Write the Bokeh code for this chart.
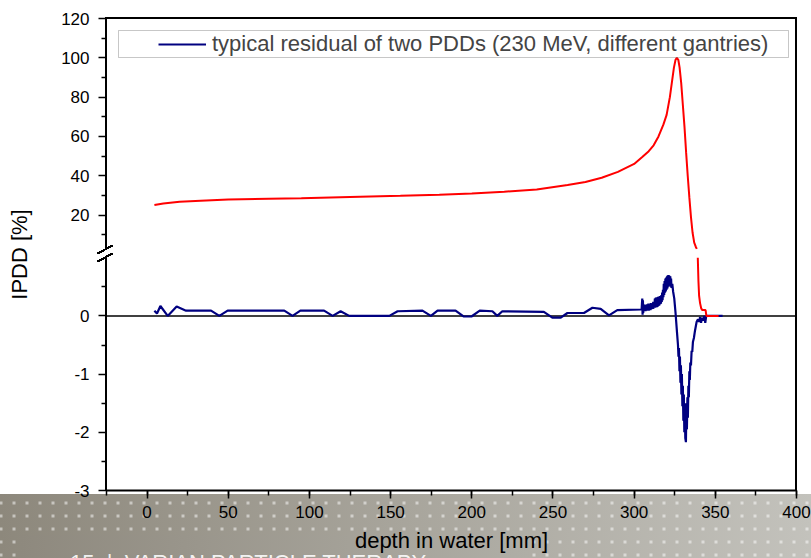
import numpy as np
from bokeh.plotting import figure
from bokeh.layouts import column
from bokeh.models import (Range1d, FixedTicker, SingleIntervalTicker, Span,
                          BoxAnnotation, Div, Legend, LegendItem)
from bokeh.embed import file_html
from bokeh.resources import INLINE

# ---------------- data ----------------
pdd_depth = [4.5, 10, 20, 33, 50, 75, 95, 125, 156, 180, 200, 220, 240, 259, 270, 280,
             290, 300, 305, 309, 312, 315, 318, 320, 322, 323.5, 324.5, 325.5, 326.3,
             327.2, 328, 329, 330, 331, 332, 333, 334, 335, 336, 337, 338, 338.6,
             339.2, 339.6, 340.0, 340.6, 341.3, 342.0, 344.0, 344.5, 348, 352]
pdd_value = [25.1, 25.9, 26.8, 27.3, 27.9, 28.3, 28.6, 29.2, 29.8, 30.4, 31.0, 31.9, 33.0,
             35.3, 36.8, 39.0, 42.0, 46.0, 49.5, 52.5, 55.5, 60.0, 66.0, 71.0, 80.0, 89.0,
             95.0, 99.0, 100.0, 99.0, 95.0, 87.0, 76.0, 65.0, 52.0, 40.0, 29.0, 19.0,
             11.0, 6.0, 3.8, 2.8, 1.0, 0.6, 0.35, 0.22, 0.13, 0.1, 0.1, 0.0, 0.0, 0.0]

res_depth = [4.5, 6.1, 8.2, 12.7, 18.2, 24, 39.4, 44.5, 49.6, 84.5, 89.6, 94.4, 109,
             114.3, 119.2, 124.5, 149.2, 154.3, 169.6, 174.8, 178.9, 190, 194.9, 199.8,
             204.9, 212.7, 215.7, 218.8, 244.4, 249.6, 254.8, 258.9, 269.1, 274.3, 279.4,
             284.5, 289.6, 304.0, 304.6,
             305.0, 305.2, 305.4, 305.6, 305.8, 306.0, 306.25, 306.5, 306.75, 307.0,
             307.25, 307.5, 307.75, 308.0, 308.25, 308.5, 308.75, 309.0, 309.25, 309.5,
             309.75, 310.0, 310.25, 310.5, 310.75, 311.0, 311.25, 311.5, 311.75, 312.0,
             312.25, 312.5, 312.75, 313.0, 313.25, 313.5, 313.75, 314.0, 314.25, 314.5,
             314.75, 315.0, 315.25, 315.5, 315.75, 316.0, 316.25, 316.5, 316.75, 317.0,
             317.25, 317.5, 317.75, 318.0, 318.25, 318.5, 318.75, 319.0, 319.25, 319.5,
             319.75, 320.0, 320.25, 320.5, 320.75, 321.0, 321.25, 321.5, 321.75, 322.0,
             322.25, 322.5, 322.75, 323.0, 323.5, 324.0, 324.7, 325.5, 326.3,
             327.0, 327.3, 327.6, 327.9, 328.2, 328.5, 328.8, 329.1, 329.4, 329.7,
             330.0, 330.3, 330.6, 330.9, 331.2, 331.5, 331.9, 332.2, 332.5, 332.8,
             333.1, 333.4, 333.7, 334.0, 334.3, 334.6, 335.0, 335.4, 335.8, 336.2,
             336.8, 337.5, 338.5, 339.3, 340.0, 340.6, 341.2, 341.8, 342.5, 343.2,
             343.8, 344.4, 345.5, 354.5]
res_value = [0.09, 0.04, 0.17, 0.0, 0.16, 0.09, 0.09, 0.0, 0.09, 0.09, 0.0, 0.09, 0.09,
             0.0, 0.08, 0.0, 0.0, 0.08, 0.09, 0.0, 0.09, 0.09, -0.01, -0.01, 0.09, 0.08,
             0.0, 0.08, 0.07, -0.03, -0.03, 0.05, 0.05, 0.14, 0.12, 0.01, 0.10, 0.11, 0.11,
             0.30, 0.02, 0.27, 0.05, 0.20, 0.10, 0.19, 0.09, 0.18, 0.08,
             0.19, 0.10, 0.20, 0.09, 0.18, 0.10, 0.21, 0.09, 0.19, 0.11,
             0.20, 0.10, 0.22, 0.11, 0.19, 0.12, 0.21, 0.12, 0.24, 0.13,
             0.20, 0.14, 0.30, 0.14, 0.31, 0.15, 0.32, 0.15, 0.30, 0.16,
             0.33, 0.17, 0.32, 0.18, 0.34, 0.20, 0.33, 0.21, 0.36, 0.24,
             0.40, 0.27, 0.45, 0.32, 0.55, 0.36, 0.60, 0.40, 0.64, 0.42,
             0.66, 0.45, 0.68, 0.47, 0.70, 0.50, 0.70, 0.52, 0.69, 0.52,
             0.68, 0.50, 0.64, 0.48, 0.55, 0.42, 0.30, 0.05, -0.25,
             -0.50, -0.70, -0.55, -0.95, -0.70, -1.15, -0.85, -1.35, -1.00, -1.55,
             -1.20, -1.80, -1.35, -2.00, -1.50, -2.10, -2.17, -1.50, -1.95, -1.40,
             -1.75, -1.20, -1.40, -0.95, -1.10, -0.80, -0.85, -0.60, -0.62, -0.45,
             -0.38, -0.25, -0.10, -0.06, -0.10, -0.02, -0.12, -0.03, -0.08, 0.00,
             -0.12, 0.00, 0.00, 0.00]

legend_label = "typical residual of two PDDs (230 MeV, different gantries)"
upper_ticks = [20, 40, 60, 80, 100, 120]
upper_minor = [10, 30, 50, 70, 90, 110]
lower_ticks = [-3, -2, -1, 0]
lower_minor = [-2.5, -1.5, -0.5, 0.5]
x_label = "depth in water [mm]"
y_label = "IPDD [%]"
footer_text = "15  |  VARIAN PARTICLE THERAPY"

# ---------------- scales ----------------
UPPER = (-120.1, 120.0)   # upper segment scale (IPDD above the break)
LOWER = (-3.0, 5.11)      # lower segment scale (residual)
UPPER_MIN = 2.5           # lowest value visible above the break
LOWER_MAX = 1.05          # highest value visible below the break


def lower_to_upper(v):
    return UPPER[0] + (v - LOWER[0]) * (UPPER[1] - UPPER[0]) / (LOWER[1] - LOWER[0])


FONT = "Liberation Sans"

p = figure(width=811, height=558, x_range=Range1d(-25, 400), y_range=Range1d(*UPPER),
           output_backend="svg", toolbar_location=None,
           min_border_left=106, min_border_right=15, min_border_top=18, min_border_bottom=68)
p.extra_y_ranges = {"low": Range1d(*LOWER)}
p.xgrid.visible = False
p.ygrid.visible = False
p.outline_line_color = None
p.background_fill_alpha = 0
p.border_fill_alpha = 0

# ---- page decoration (slide band, frame edges, axis break) as CSS layers ----
def rgb(c):
    return "rgb(%d,%d,%d)" % tuple(int(round(v)) for v in c)

band_l = np.array([141, 136, 124])
band_r = np.array([195, 194, 188])
def band_at(x):
    return band_l + (band_r - band_l) * x / 811.0

slash = ("linear-gradient(to bottom right, transparent calc(50% - 1.1px), #000 calc(50% - 1.1px), "
         "#000 calc(50% + 1.1px), transparent calc(50% + 1.1px))")
layers = [
    slash + " 97px 245px / 16px 9px no-repeat",
    slash + " 97px 253px / 16px 9px no-repeat",
    "linear-gradient(#000,#000) 105px 17px / 2px 231px no-repeat",    # left edge, upper
    "linear-gradient(#000,#000) 105px 256px / 2px 235px no-repeat",   # left edge, lower
    "linear-gradient(#000,#000) 105px 17px / 692px 2px no-repeat",    # top edge
    "linear-gradient(#000,#000) 795px 17px / 2px 474px no-repeat",    # right edge
    "linear-gradient(#fff,#fff) 0px 0px / 100% 494px no-repeat",      # white page
    "linear-gradient(to right, %s, %s) 20px 535px / 508px 30px no-repeat"
    % (rgb(band_at(20)), rgb(band_at(528))),
    "radial-gradient(circle, rgba(255,255,255,0.5) 0px, rgba(255,255,255,0.5) 1.4px, "
    "rgba(255,255,255,0) 2px) -5.5px 496.5px / 13px 13px repeat",
    "linear-gradient(to right, %s, %s) 0px 0px / 100%% 100%% no-repeat"
    % (rgb(band_l), rgb(band_r)),
]
p.styles = {"background": ", ".join(layers)}

# ---- data lines ----
px = np.array(pdd_depth)
py = np.array(pdd_value)
up = py >= UPPER_MIN
lo = py <= LOWER_MAX

p.add_layout(Span(location=0, dimension="width", y_range_name="low",
                  line_color="black", line_width=1.5, level="underlay"))

r_blue = p.line(res_depth, res_value, color="#000080", line_width=2.2, y_range_name="low")
p.line(px[up], py[up], color="#ff0000", line_width=2)
p.line(px[lo], py[lo], color="#ff0000", line_width=2, y_range_name="low")

# ---- axes ----
xa = p.xaxis[0]
xa.ticker = SingleIntervalTicker(interval=50, num_minor_ticks=2)
xa.axis_label = x_label
ya = p.yaxis[0]
ya.axis_label = y_label
major = [float(v) for v in upper_ticks] + [lower_to_upper(v) for v in lower_ticks]
minor = [float(v) for v in upper_minor] + [lower_to_upper(v) for v in lower_minor]
ya.ticker = FixedTicker(ticks=major, minor_ticks=minor)
overrides = {float(v): str(v) for v in upper_ticks}
overrides.update({lower_to_upper(v): str(v) for v in lower_ticks})
ya.major_label_overrides = overrides

for ax in (xa, ya):
    ax.axis_line_width = 2
    ax.axis_line_color = "black"
    ax.major_tick_in = 0
    ax.major_tick_out = 8
    ax.minor_tick_in = 0
    ax.minor_tick_out = 5
    ax.major_tick_line_width = 1.5
    ax.minor_tick_line_width = 1.5
    ax.major_label_text_font = FONT
    ax.major_label_text_font_size = "17px"
    ax.major_label_text_color = "black"
    ax.major_label_standoff = 7
    ax.axis_label_text_font = FONT
    ax.axis_label_text_font_size = "22px"
    ax.axis_label_text_font_style = "normal"
    ax.axis_label_text_color = "black"
ya.axis_line_color = None     # drawn with the break as page decoration
ya.major_label_standoff = 9
xa.axis_label_standoff = 7
ya.axis_label_standoff = 26

# ---- legend ----
p.add_layout(BoxAnnotation(left=118, right=788, top=30, bottom=57,
                           left_units="canvas", right_units="canvas",
                           top_units="canvas", bottom_units="canvas",
                           fill_alpha=0, line_color="#444444", line_width=1))
legend = Legend(items=[LegendItem(label=legend_label, renderers=[r_blue])],
                location=(52, 433), border_line_color=None, background_fill_alpha=0,
                glyph_width=48, glyph_height=20, label_standoff=6, padding=0, margin=0,
                label_text_font=FONT, label_text_font_size="22px", label_height=20)
p.add_layout(legend)

# ---- slide footer text, overlaid on the band at the page bottom ----
footer = Div(text=footer_text,
             styles={"position": "absolute", "left": "70px", "top": "550px",
                     "color": "rgba(255,255,255,0.9)", "font-family": FONT,
                     "font-size": "22px", "line-height": "26px", "white-space": "pre",
                     "z-index": "5", "margin": "0", "padding": "0"})
layout = column(p, footer, width=811, height=558,
                styles={"position": "relative", "overflow": "hidden"})

open("out.html", "w").write(file_html(layout, INLINE))
